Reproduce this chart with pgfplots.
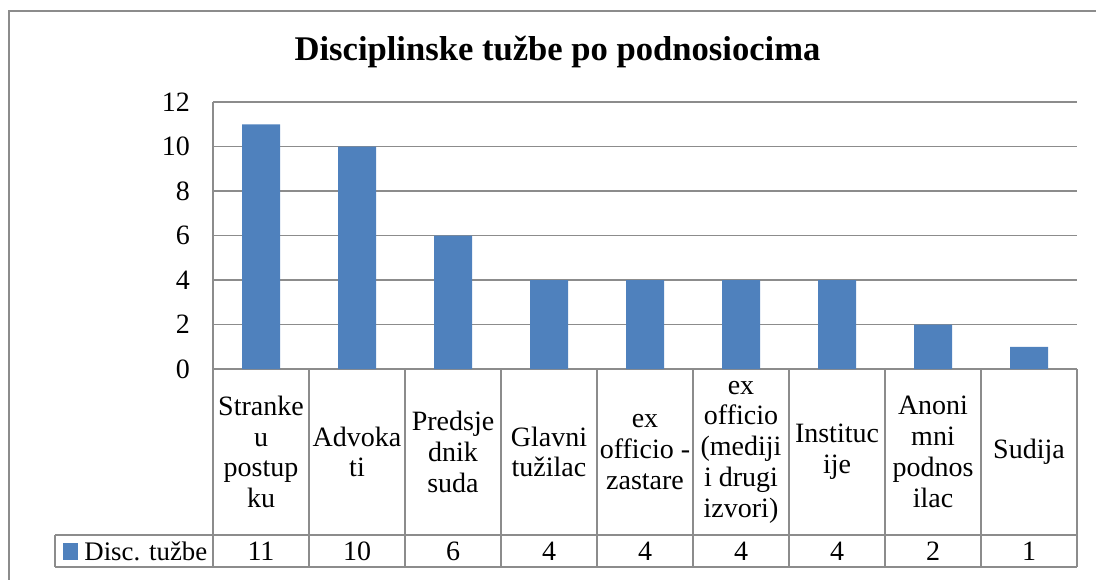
\documentclass[border=0pt]{standalone}
\usepackage{fontspec}
\setmainfont{Liberation Serif}
\usepackage{pgfplots}
\pgfplotsset{compat=1.18}
\definecolor{barblue}{HTML}{4F81BD}
\definecolor{linegray}{HTML}{8C8C8C}
\newcommand{\lbl}{\fontsize{14}{15.4}\selectfont}
\begin{document}
\begin{tikzpicture}
\useasboundingbox (0,0) rectangle (548pt,-289.5pt);
\begin{axis}[
  at={(106.5pt,-184.5pt)}, anchor=south west,
  width=432pt, height=133.5pt, scale only axis,
  xmin=0.5, xmax=9.5, ymin=0, ymax=12,
  ytick={0,2,...,12}, xtick=\empty,
  axis y line*=left, axis x line*=bottom,
  axis line style={draw=linegray,line width=0.9pt,-},
  major tick length=0pt,
  ymajorgrids, grid style={draw=linegray,line width=0.9pt},
  yticklabel style={font=\lbl,/pgf/number format/assume math mode=true,xshift=-8pt},
  ybar, bar width=19pt,
]
\addplot[fill=barblue,draw=none] coordinates {
  (1,11) (2,10) (3,6) (4,4) (5,4) (6,4) (7,4) (8,2) (9,1)};
\end{axis}
\begin{scope}[x=0.5pt,y=-0.5pt]
  % outer frame (cut off right and bottom)
  \draw[linegray,line width=0.9pt] (9,1200) -- (9,11) -- (1200,11);
  % title
  \node[font=\fontsize{17.3}{20}\selectfont\bfseries] at (557.5,52) {Disciplinske tužbe po podnosiocima};
  % data table
  \draw[linegray,line width=0.9pt] (55,535) -- (1077,535) (55,567) -- (1077,567) (55,535) -- (55,567);
  \foreach \k in {0,...,9} \draw[linegray,line width=0.9pt] ({213+96*\k},369) -- ({213+96*\k},567);
  \fill[barblue] (63,543) rectangle (78,560);
  \node[font=\fontsize{13.4}{15}\selectfont,anchor=west,inner sep=0pt] at (84,551) {Disc. tužbe};
  \foreach \t [count=\i] in {
    {Stranke\\u\\postup\\ku},{Advoka\\ti},{Predsje\\dnik\\suda},{Glavni\\tužilac},
    {ex\\officio -\\zastare},{ex\\officio\\(mediji\\i drugi\\izvori)},{Instituc\\ije},
    {Anoni\\mni\\podnos\\ilac},{Sudija}}
    \node[font=\lbl,align=center,inner sep=0pt] at ({213+96*\i-48},452) {\t};
  \foreach \v [count=\i] in {11,10,6,4,4,4,4,2,1}
    \node[font=\lbl,inner sep=0pt] at ({213+96*\i-48},551) {\v};
\end{scope}
\end{tikzpicture}
\end{document}
